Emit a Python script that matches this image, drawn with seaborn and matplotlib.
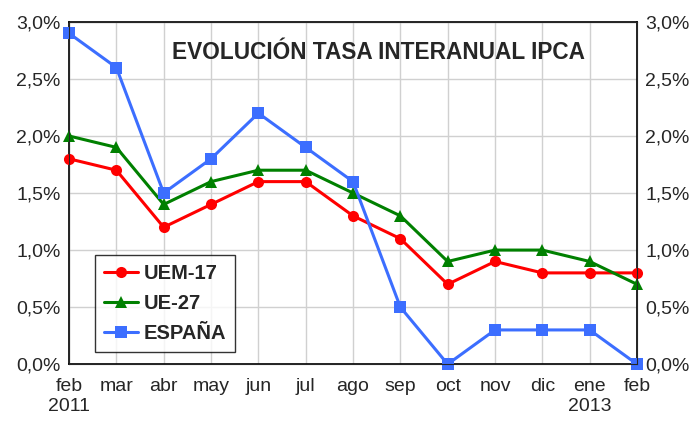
import numpy as np
import pandas as pd
import matplotlib
matplotlib.use("Agg")
import matplotlib.pyplot as plt
import seaborn as sns
from matplotlib.ticker import FuncFormatter

# Data
meses = ["feb\n2011", "mar", "abr", "may", "jun", "jul", "ago", "sep", "oct",
         "nov", "dic", "ene\n2013", "feb"]
uem17 = [1.8, 1.7, 1.2, 1.4, 1.6, 1.6, 1.3, 1.1, 0.7, 0.9, 0.8, 0.8, 0.8]
ue27 = [2.0, 1.9, 1.4, 1.6, 1.7, 1.7, 1.5, 1.3, 0.9, 1.0, 1.0, 0.9, 0.7]
espana = [2.9, 2.6, 1.5, 1.8, 2.2, 1.9, 1.6, 0.5, 0.0, 0.3, 0.3, 0.3, 0.0]

series = {"UEM-17": uem17, "UE-27": ue27, "ESPAÑA": espana}
colores = {"UEM-17": "#FF0000", "UE-27": "#008000", "ESPAÑA": "#3C6EFF"}
marcadores = {"UEM-17": "o", "UE-27": "^", "ESPAÑA": "s"}

df = pd.DataFrame([
    {"pos": i, "serie": nombre, "valor": v}
    for nombre, vals in series.items()
    for i, v in enumerate(vals)
])

sns.set_style("white")
plt.rcParams["font.family"] = ["Liberation Sans", "DejaVu Sans"]

fig = plt.figure(figsize=(6.93, 4.21), dpi=100)
ax = fig.add_axes([0.0996, 0.135, 0.8196, 0.813])

for nombre in series:
    sub = df[df["serie"] == nombre]
    sns.lineplot(data=sub, x="pos", y="valor", ax=ax, color=colores[nombre],
                 marker=marcadores[nombre], markersize=8, linewidth=2.2,
                 markeredgewidth=0, label=nombre, clip_on=False, zorder=5)

ax.set_xlim(0, len(meses) - 1)
ax.set_ylim(0, 3.0)
ax.set_xticks(range(len(meses)))
ax.set_xticklabels(meses, fontsize=14)
yt = np.arange(0, 3.01, 0.5)
ax.set_yticks(yt)
fmt = FuncFormatter(lambda v, p: f"{v:.1f}%".replace(".", ","))
ax.yaxis.set_major_formatter(fmt)
ax.tick_params(axis="y", labelsize=14, length=0, pad=6)
ax.tick_params(axis="x", length=0, pad=10)
ax.grid(True, color="#D0D0D0", linewidth=1)
ax.set_xlabel("")
ax.set_ylabel("")
for s in ax.spines.values():
    s.set_color("black")
    s.set_linewidth(1.2)

ax2 = ax.twinx()
ax2.set_ylim(0, 3.0)
ax2.set_yticks(yt)
ax2.yaxis.set_major_formatter(fmt)
ax2.tick_params(axis="y", labelsize=14, length=0, pad=6)
ax2.grid(False)

ax.text(0.545, 0.91, "EVOLUCIÓN TASA INTERANUAL IPCA", transform=ax.transAxes,
        ha="center", va="center", fontsize=16.3, fontweight="bold")

leg = ax.legend(loc="lower left", bbox_to_anchor=(0.045, 0.035),
                prop={"weight": "bold", "size": 14.5}, frameon=True, fancybox=False,
                handlelength=1.7, handletextpad=0.3, borderpad=0.45, labelspacing=0.55,
                borderaxespad=0)
leg.get_frame().set_edgecolor("black")
leg.get_frame().set_linewidth(1)
leg.set_zorder(10)

fig.savefig("out.png", dpi=100)
